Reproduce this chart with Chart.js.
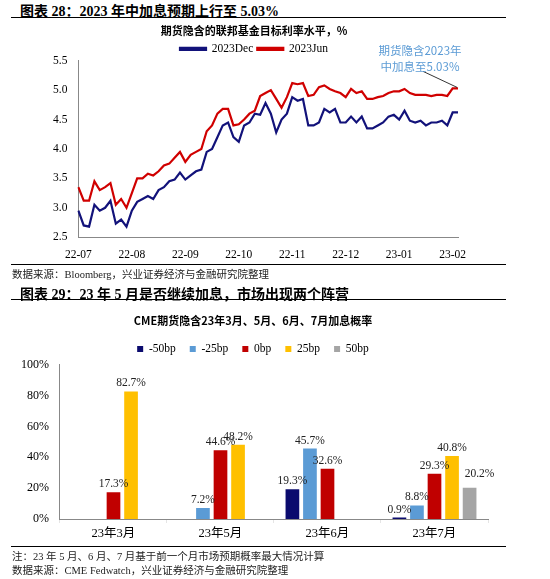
<!DOCTYPE html>
<html><head><meta charset="utf-8">
<script src="https://cdn.jsdelivr.net/npm/chart.js@4"></script>
<style>
body{margin:0;width:550px;height:579px;background:#fff;font-family:"Liberation Serif","Noto Sans CJK SC",serif;position:relative;overflow:hidden}
.h{position:absolute;left:20px;font-weight:bold;font-size:14px;color:#000;font-family:"Liberation Serif","Noto Sans CJK SC",serif}
.rule{position:absolute;left:11px;width:495px;border-top:1.3px solid #000}
.src{position:absolute;left:12px;font-size:10.5px;color:#222;font-family:"Liberation Serif","Noto Sans CJK SC",serif}
#c1{position:absolute;left:0;top:20px}
#c2{position:absolute;left:0;top:302px}
</style></head><body>
<div class="h" style="top:0px">图表 28：2023 年中加息预期上行至 5.03%</div>
<div class="rule" style="top:17px"></div>
<canvas id="c1" width="550" height="245"></canvas>
<div class="rule" style="top:264px"></div>
<div class="src" style="top:266px">数据来源：Bloomberg，兴业证券经济与金融研究院整理</div>
<div class="h" style="top:283px">图表 29：23 年 5 月是否继续加息，市场出现两个阵营</div>
<div class="rule" style="top:299px"></div>
<canvas id="c2" width="550" height="242"></canvas>
<div class="rule" style="top:546px"></div>
<div class="src" style="top:548px">注：23 年 5 月、6 月、7 月基于前一个月市场预期概率最大情况计算</div>
<div class="src" style="top:562px">数据来源：CME Fedwatch，兴业证券经济与金融研究院整理</div>
<script>
// chart 1 data: ~10 points per month
const months = ['22-07', '22-08', '22-09', '22-10', '22-11', '22-12', '23-01', '23-02'];
const dec2023 = [
  2.95, 2.70, 2.68, 3.05, 2.95, 3.00, 3.12, 2.73, 2.80, 2.68,
  2.95, 3.10, 3.15, 3.20, 3.15, 3.30, 3.35, 3.45, 3.48, 3.60,
  3.48, 3.55, 3.62, 3.65, 3.95, 4.00, 4.20, 4.40, 4.45, 4.20,
  4.12, 4.40, 4.45, 4.60, 4.58, 4.78, 4.60, 4.28, 4.50, 4.60,
  4.88, 4.82, 4.85, 4.40, 4.40, 4.45, 4.68, 4.62, 4.68, 4.45,
  4.45, 4.55, 4.45, 4.55, 4.35, 4.35, 4.40, 4.45, 4.55, 4.58,
  4.50, 4.65, 4.48, 4.45, 4.48, 4.40, 4.45, 4.45, 4.48, 4.40,
  4.62, 4.62
];
const jun2023 = [
  3.35, 3.12, 3.12, 3.45, 3.30, 3.35, 3.42, 3.05, 3.15, 3.00,
  3.25, 3.50, 3.50, 3.58, 3.55, 3.62, 3.72, 3.75, 3.85, 3.95,
  3.78, 3.90, 3.95, 4.00, 4.30, 4.40, 4.60, 4.68, 4.68, 4.40,
  4.42, 4.50, 4.60, 4.65, 4.90, 4.95, 5.00, 4.85, 4.70, 4.88,
  5.12, 5.10, 5.12, 4.90, 4.92, 5.05, 5.08, 5.02, 4.98, 4.95,
  4.88, 5.02, 4.95, 4.98, 4.85, 4.85, 4.88, 4.90, 4.95, 4.98,
  4.98, 5.02, 4.95, 4.92, 4.92, 4.92, 4.90, 4.92, 4.92, 4.90,
  5.03, 5.03
];
const labels1 = [];
months.forEach(m => { labels1.push(m); for (let i = 1; i < 10; i++) labels1.push(''); });
labels1.length = dec2023.length;

// chart 2 data
const categories = ['23年3月', '23年5月', '23年6月', '23年7月'];
const bpNames = ['-50bp', '-25bp', '0bp', '25bp', '50bp'];
const bpColors = ['#0b0b6e', '#5b9bd5', '#c00000', '#ffc000', '#a5a5a5'];
const probs = [
  [null, null, 19.3, 0.9],
  [null, 7.2, 45.7, 8.8],
  [17.3, 44.6, 32.6, 29.3],
  [82.7, 48.2, null, 40.8],
  [null, null, null, 20.2]
];

const serif = "'Liberation Serif', 'Noto Sans CJK SC', serif";
Chart.defaults.font.family = serif;
Chart.defaults.color = '#000';
Chart.defaults.animation = false;

const noteLabel = {
  id: 'note',
  afterDraw(chart) {
    const meta = chart.getDatasetMeta(1);
    const p = meta.data[meta.data.length - 1];
    const ctx = chart.ctx;
    ctx.save();
    ctx.strokeStyle = '#000';
    ctx.lineWidth = 0.8;
    ctx.beginPath(); ctx.moveTo(p.x - 1, p.y - 1); ctx.lineTo(p.x - 35, p.y - 17); ctx.stroke();
    ctx.fillStyle = '#5b9bd5';
    ctx.font = "11.5px 'Noto Sans CJK SC', sans-serif";
    ctx.textAlign = 'center';
    ctx.fillText('期货隐含2023年', p.x - 38, 31);
    ctx.fillText('中加息至5.03%', p.x - 38, 47);
    ctx.restore();
  }
};

new Chart(document.getElementById('c1'), {
  type: 'line',
  data: {
    labels: labels1,
    datasets: [
      { label: '2023Dec', data: dec2023, borderColor: '#12127a', borderWidth: 2.2, pointRadius: 0, tension: 0 },
      { label: '2023Jun', data: jun2023, borderColor: '#d00000', borderWidth: 2.2, pointRadius: 0, tension: 0 }
    ]
  },
  options: {
    responsive: false,
    layout: { padding: { left: 50, right: 92, top: 0, bottom: 0 } },
    plugins: {
      title: { display: true, text: '期货隐含的联邦基金目标利率水平，%', font: { size: 11, weight: 'bold', family: "'Noto Sans CJK SC', sans-serif" }, padding: { top: 4, bottom: 2 } },
      legend: { labels: { boxWidth: 26, boxHeight: 2, padding: 4, font: { size: 11.5 } }, align: 'center', maxWidth: 600,
        onClick: null },
      tooltip: { enabled: false }
    },
    scales: {
      x: {
        grid: { display: false },
        border: { color: '#888' },
        ticks: { autoSkip: false, maxRotation: 0, font: { size: 11.5 }, callback: (v, i) => labels1[i] }
      },
      y: {
        min: 2.5, max: 5.5,
        grid: { display: false },
        border: { color: '#888' },
        ticks: { stepSize: 0.5, font: { size: 11.5 }, callback: v => v.toFixed(1) }
      }
    }
  },
  plugins: [noteLabel, {
    id: 'legendGap',
    beforeInit(chart) {
      const fit = chart.legend.fit;
      chart.legend.fit = function () { fit.bind(chart.legend)(); this.height -= 4; };
    }
  }]
});

const barLabels = {
  id: 'barLabels',
  afterDatasetsDraw(chart) {
    const ctx = chart.ctx;
    ctx.save();
    ctx.font = "11.5px " + serif;
    ctx.fillStyle = '#222';
    ctx.textAlign = 'center';
    chart.data.datasets.forEach((ds, di) => {
      chart.getDatasetMeta(di).data.forEach((b, i) => {
        const v = ds.data[i];
        if (v == null) return;
        ctx.fillText(v.toFixed(1) + '%', b.x + (di === 4 ? 10 : 0), b.y - (di === 4 ? 14 : 8));
      });
    });
    ctx.restore();
  }
};

new Chart(document.getElementById('c2'), {
  type: 'bar',
  data: {
    labels: categories,
    datasets: bpNames.map((n, i) => ({ label: n, data: probs[i], backgroundColor: bpColors[i], categoryPercentage: 0.82, barPercentage: 0.78 }))
  },
  options: {
    responsive: false,
    layout: { padding: { left: 18, right: 62, top: 0, bottom: 0 } },
    plugins: {
      title: { display: true, text: 'CME期货隐含23年3月、5月、6月、7月加息概率', font: { size: 11, weight: 'bold', family: "'Noto Sans CJK SC', sans-serif" }, padding: { top: 12, bottom: 2 } },
      legend: { labels: { boxWidth: 6, boxHeight: 6, padding: 14, font: { size: 11.5 } } },
      tooltip: { enabled: false }
    },
    scales: {
      x: { grid: { display: true, drawOnChartArea: false, offset: true, tickLength: 4 }, border: { color: '#888' }, ticks: { font: { size: 12.5 } } },
      y: { min: 0, max: 100, grid: { display: false }, border: { color: '#888' }, ticks: { stepSize: 20, font: { size: 12 }, callback: v => v + '%' } }
    }
  },
  plugins: [barLabels]
});
</script>
</body></html>
